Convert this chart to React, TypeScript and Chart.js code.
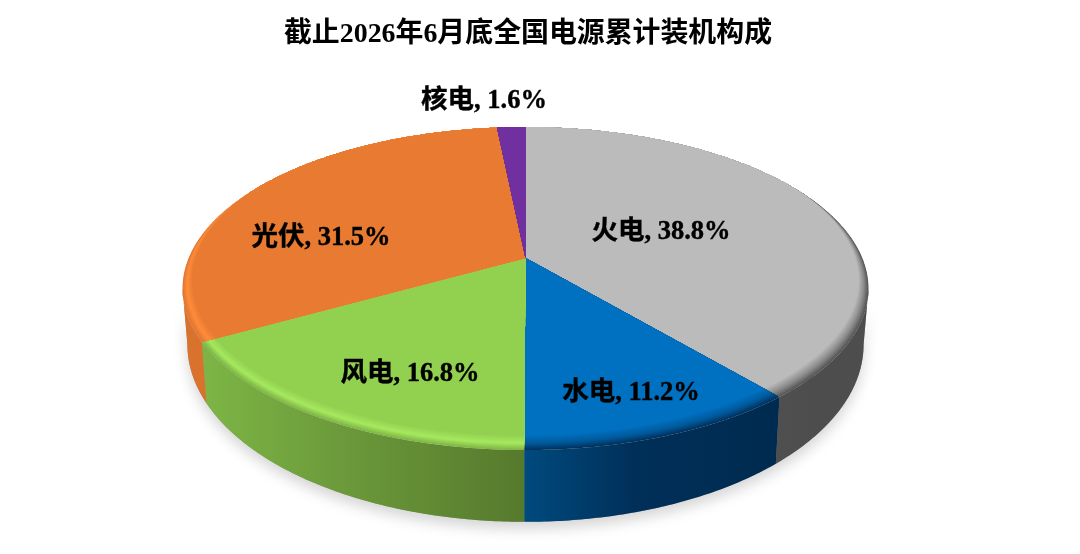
import React, { useEffect, useRef } from "react";
import { Chart, registerables } from "chart.js";

Chart.register(...registerables);

const categories = ["火电", "水电", "风电", "光伏", "核电"];
const shares = [38.8, 11.2, 16.8, 31.5, 1.6];
const titleText = "截止2026年6月底全国电源累计装机构成";

const faceColors = ["#bbbbbb", "#0070c0", "#92d050", "#e87b31", "#7030a0"];
const rimMidColors = ["#8c8c8c", "#005a9c", "#a6e95f", "#ff8c3c", "#7030a0"];
const rimEdgeColors = ["#555555", "#00335f", "#7fb646", "#e0762f", "#7030a0"];
const sideLeftColors = ["#4f4f4f", "#004a7e", "#7cb545", "#d9722c", "#5a2680"];
const sideMidColors = ["#4d4d4d", "#002f58", "#6b983a", "#d9722c", "#5a2680"];
const sideRightColors = ["#4d4d4d", "#002b50", "#567a2d", "#d9722c", "#5a2680"];

const labelAnchors = [
  [661, 232],
  [631, 393],
  [410, 374],
  [321, 238],
  [484, 101],
];

const K = 0.189;
const TOP = { cx: 525.5, cy: 258, a: 336.8, b: 155.8 };
const BOTTOM = { cx: 525.5, cy: 311, a: 332, b: 171 };
const VIS_FROM = Math.PI / 2 + Math.asin(K);
const VIS_TO = 2 * Math.PI - VIS_FROM;
const FONT = "'Liberation Serif', 'Noto Sans CJK SC', serif";

type Plane = typeof TOP;

function project(p: Plane, theta: number, r = 1): [number, number] {
  const u = r * Math.sin(theta);
  const v = r * Math.cos(theta);
  const w = 1 + K * v;
  return [p.cx + (p.a * u) / w, p.cy - (p.b * v) / w];
}

function hex(c: string) {
  return [1, 3, 5].map((i) => parseInt(c.slice(i, i + 2), 16));
}
function mix(a: string, b: string, t: number) {
  const x = hex(a);
  const y = hex(b);
  return `rgb(${x.map((v, i) => Math.round(v + (y[i] - v) * t)).join(",")})`;
}

function bandWidth(theta: number) {
  const v = Math.cos(theta);
  return 0.062 * Math.max(0, Math.min(1, (0.5 - v) / 1.5));
}

function slicePath(ctx: CanvasRenderingContext2D, s: number, e: number, t: number) {
  ctx.beginPath();
  ctx.moveTo(TOP.cx, TOP.cy);
  const n = Math.max(2, Math.ceil((e - s) / 0.01));
  for (let i = 0; i <= n; i++) {
    const th = s + ((e - s) * i) / n;
    const [x, y] = project(TOP, th, 1 - bandWidth(th) * t);
    ctx.lineTo(x, y);
  }
  ctx.closePath();
}

function sidePath(ctx: CanvasRenderingContext2D, s: number, e: number) {
  const n = Math.max(2, Math.ceil((e - s) / 0.01));
  ctx.beginPath();
  for (let i = 0; i <= n; i++) {
    const [x, y] = project(TOP, s + ((e - s) * i) / n);
    i ? ctx.lineTo(x, y) : ctx.moveTo(x, y);
  }
  for (let i = n; i >= 0; i--) {
    const [x, y] = project(BOTTOM, s + ((e - s) * i) / n);
    ctx.lineTo(x, y);
  }
  ctx.closePath();
}

const pie3d = {
  id: "pie3d",
  beforeDatasetsDraw(chart: any) {
    const ctx: CanvasRenderingContext2D = chart.ctx;
    const arcs = chart.getDatasetMeta(0).data;
    const angles = arcs.map((a: any) => [a.startAngle + Math.PI / 2, a.endAngle + Math.PI / 2]);

    ctx.save();
    // soft shadow under the disc
    ctx.save();
    ctx.shadowColor = "rgba(0,0,0,0.17)";
    ctx.shadowBlur = 14;
    ctx.shadowOffsetY = 7;
    ctx.fillStyle = "#999999";
    sidePath(ctx, VIS_FROM, VIS_TO);
    ctx.fill();
    ctx.restore();

    // extruded side
    angles.forEach(([s, e]: number[], i: number) => {
      const from = Math.max(s, VIS_FROM);
      const to = Math.min(e, VIS_TO);
      if (to <= from) return;
      const [xa] = project(BOTTOM, from);
      const [xb] = project(BOTTOM, to);
      const g = ctx.createLinearGradient(Math.min(xa, xb), 0, Math.max(xa, xb), 0);
      g.addColorStop(0, sideLeftColors[i]);
      g.addColorStop(0.45, sideMidColors[i]);
      g.addColorStop(1, sideRightColors[i]);
      ctx.fillStyle = g;
      sidePath(ctx, from, to);
      ctx.fill();
    });

    // top face with its bevelled rim, painted from the outside in
    const STEPS = 16;
    angles.forEach(([s, e]: number[], i: number) => {
      for (let k = 0; k <= STEPS; k++) {
        const t = k / STEPS;
        ctx.fillStyle =
          t < 0.45
            ? mix(rimEdgeColors[i], rimMidColors[i], t / 0.45)
            : mix(rimMidColors[i], faceColors[i], (t - 0.45) / 0.55);
        slicePath(ctx, s, e, t);
        ctx.fill();
      }
    });
    ctx.restore();
    return false;
  },
  afterDraw(chart: any) {
    const ctx: CanvasRenderingContext2D = chart.ctx;
    const values = chart.data.datasets[0].data;
    ctx.save();
    ctx.font = `bold 26.5px ${FONT}`;
    ctx.fillStyle = "#000000";
    ctx.strokeStyle = "#000000";
    ctx.lineWidth = 0.4;
    ctx.textAlign = "center";
    ctx.textBaseline = "middle";
    chart.data.labels.forEach((name: string, i: number) => {
      const text = `${name}, ${values[i].toFixed(1)}%`;
      ctx.fillText(text, labelAnchors[i][0], labelAnchors[i][1]);
      ctx.strokeText(text, labelAnchors[i][0], labelAnchors[i][1]);
    });
    ctx.restore();
  },
};

export default function App() {
  const ref = useRef<HTMLCanvasElement>(null);
  useEffect(() => {
    document.body.style.margin = "0";
    document.body.style.background = "#ffffff";
    const chart = new Chart(ref.current as HTMLCanvasElement, {
      type: "pie",
      data: {
        labels: categories,
        datasets: [{ data: shares, backgroundColor: faceColors, borderWidth: 0 }],
      },
      options: {
        animation: false,
        responsive: false,
        devicePixelRatio: 1,
        layout: { padding: { right: 24 } },
        plugins: {
          legend: { display: false },
          tooltip: { enabled: false },
          title: {
            display: true,
            text: titleText,
            color: "#000000",
            font: { family: FONT, size: 27.9, weight: "bold" },
            padding: { top: 18, bottom: 10 },
          },
        },
      },
      plugins: [pie3d],
    } as any);
    return () => chart.destroy();
  }, []);
  return <canvas ref={ref} width={1080} height={554} style={{ display: "block", width: 1080, height: 554 }} />;
}
